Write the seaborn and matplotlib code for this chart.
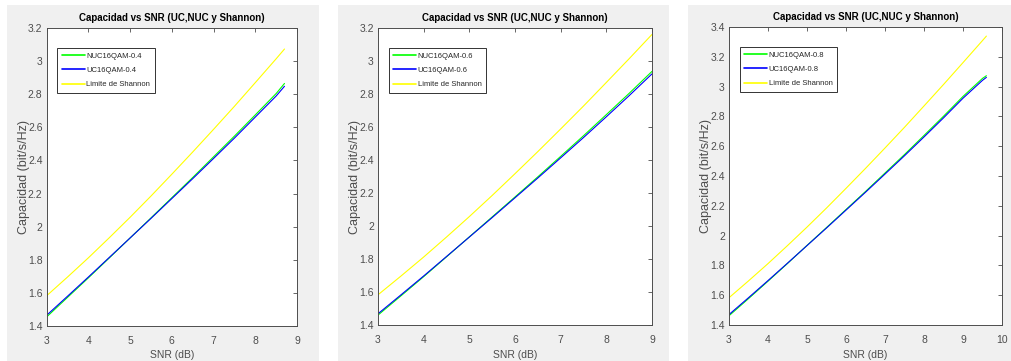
import numpy as np
import pandas as pd
import matplotlib
matplotlib.use("Agg")
import matplotlib.pyplot as plt
import seaborn as sns
from matplotlib.patches import Rectangle
from matplotlib.ticker import FormatStrFormatter, MultipleLocator

# ---- data ----
snr_1 = [3, 3.5, 4, 4.5, 5, 5.5, 6, 6.5, 7, 7.5, 8, 8.5, 8.7]
uc_1 = [1.465, 1.580, 1.696, 1.814, 1.932, 2.050, 2.170, 2.290, 2.412, 2.535, 2.662, 2.789, 2.848]
nuc_1 = [1.455, 1.573, 1.691, 1.811, 1.932, 2.053, 2.175, 2.297, 2.422, 2.547, 2.675, 2.804, 2.865]
sh_1 = [1.583, 1.696, 1.812, 1.933, 2.057, 2.185, 2.317, 2.451, 2.588, 2.727, 2.870, 3.014, 3.073]

snr_2 = [3, 3.5, 4, 4.5, 5, 5.5, 6, 6.5, 7, 7.5, 8, 8.5, 9]
uc_2 = [1.468, 1.582, 1.697, 1.815, 1.933, 2.051, 2.171, 2.291, 2.413, 2.536, 2.662, 2.790, 2.922]
nuc_2 = [1.460, 1.576, 1.693, 1.813, 1.934, 2.055, 2.176, 2.298, 2.422, 2.547, 2.675, 2.804, 2.937]
sh_2 = [1.583, 1.696, 1.812, 1.933, 2.057, 2.185, 2.317, 2.451, 2.588, 2.727, 2.870, 3.014, 3.161]

snr_3 = [3, 3.5, 4, 4.5, 5, 5.5, 6, 6.5, 7, 7.5, 8, 8.5, 9, 9.5, 9.6]
uc_3 = [1.470, 1.583, 1.698, 1.815, 1.933, 2.051, 2.171, 2.291, 2.413, 2.536, 2.662, 2.790, 2.922, 3.042, 3.062]
nuc_3 = [1.462, 1.577, 1.694, 1.813, 1.934, 2.054, 2.175, 2.296, 2.420, 2.544, 2.672, 2.801, 2.934, 3.055, 3.073]
sh_3 = [1.583, 1.696, 1.812, 1.933, 2.057, 2.185, 2.317, 2.451, 2.588, 2.727, 2.870, 3.014, 3.161, 3.309, 3.339]

params = ["0.4", "0.6", "0.8"]
title = "Capacidad vs SNR (UC,NUC y Shannon)"
xlabel = "SNR (dB)"
ylabel = "Capacidad (bit/s/Hz)"
shannon_label = "Limite de Shannon"

panels = [
    (snr_1, nuc_1, uc_1, sh_1, (3, 9), (1.4, 3.2)),
    (snr_2, nuc_2, uc_2, sh_2, (3, 9), (1.4, 3.2)),
    (snr_3, nuc_3, uc_3, sh_3, (3, 10), (1.4, 3.4)),
]

# ---- layout (pixels) ----
W, H = 1011, 361
bg_boxes = [(7, 319), (338, 669), (688, 1011)]
ax_boxes = [(46.7, 297, 28, 326), (378, 652, 28, 325), (729, 1002, 27, 325)]

sns.set_theme(style="white")
plt.rcParams["font.family"] = ["Liberation Sans", "DejaVu Sans"]

fig = plt.figure(figsize=(W / 100, H / 100), dpi=100)
fig.patch.set_facecolor("white")
for x0, x1 in bg_boxes:
    rect = Rectangle((x0 / W, 0), (x1 - x0) / W, 1 - 5 / H,
                     transform=fig.transFigure, facecolor="#f0f0f0",
                     edgecolor="none", zorder=-10)
    fig.add_artist(rect)

palette = {"NUC": "#00ff00", "UC": "#0000ff", "SH": "#ffff00"}
grey = "#262626"
tick_grey = "#4d4d4d"

for i, ((snr, nuc, uc, sh, xl, yl), (l, r, t, b)) in enumerate(zip(panels, ax_boxes)):
    ax = fig.add_axes([l / W, 1 - b / H, (r - l) / W, (b - t) / H])
    ax.set_zorder(5)
    ax.set_facecolor("white")
    lab_nuc = f"NUC16QAM-{params[i]}"
    lab_uc = f"UC16QAM-{params[i]}"
    df = pd.concat([
        pd.DataFrame({"snr": snr, "cap": nuc, "serie": lab_nuc}),
        pd.DataFrame({"snr": snr, "cap": uc, "serie": lab_uc}),
        pd.DataFrame({"snr": snr, "cap": sh, "serie": shannon_label}),
    ])
    pal = {lab_nuc: palette["NUC"], lab_uc: palette["UC"], shannon_label: palette["SH"]}
    sns.lineplot(data=df, x="snr", y="cap", hue="serie", palette=pal, ax=ax,
                 linewidth=0.8, sort=False)
    ax.set_xlim(*xl)
    ax.set_ylim(*yl)
    ax.xaxis.set_major_locator(MultipleLocator(1))
    ax.yaxis.set_major_locator(MultipleLocator(0.2))
    ax.xaxis.set_major_formatter(FormatStrFormatter("%g"))
    ax.yaxis.set_major_formatter(FormatStrFormatter("%g"))
    ax.tick_params(direction="in", length=3, width=0.6, top=True, right=True,
                   labelsize=7.5, colors=tick_grey)
    ax.tick_params(axis="x", pad=7)
    ax.tick_params(axis="y", pad=3)
    for s in ax.spines.values():
        s.set_color(tick_grey)
        s.set_linewidth(0.7)
    ax.set_xlabel(xlabel, fontsize=7.5, color=tick_grey)
    ax.xaxis.set_label_coords(0.5, -(350 - b) / (b - t), transform=ax.transAxes)
    ax.set_ylabel(ylabel, fontsize=9, color=tick_grey)
    ax.yaxis.set_label_coords(-17 / (r - l), 0.5)
    ax.set_title(title, fontsize=7, fontweight="bold", color="black", pad=5)
    leg = ax.legend(loc="upper left", bbox_to_anchor=(10.5 / (r - l), 1 - 20 / (b - t)),
                    prop={"size": 5.5},
                    frameon=True, fancybox=False, handlelength=3.0,
                    borderpad=0.6, labelspacing=0.9, handletextpad=0.2,
                    borderaxespad=0)
    leg.get_frame().set_edgecolor("black")
    leg.get_frame().set_linewidth(0.7)
    for h in leg.get_lines():
        h.set_linewidth(1.2)
    for tx in leg.get_texts():
        tx.set_color(grey)

fig.savefig("out.png", dpi=100)
